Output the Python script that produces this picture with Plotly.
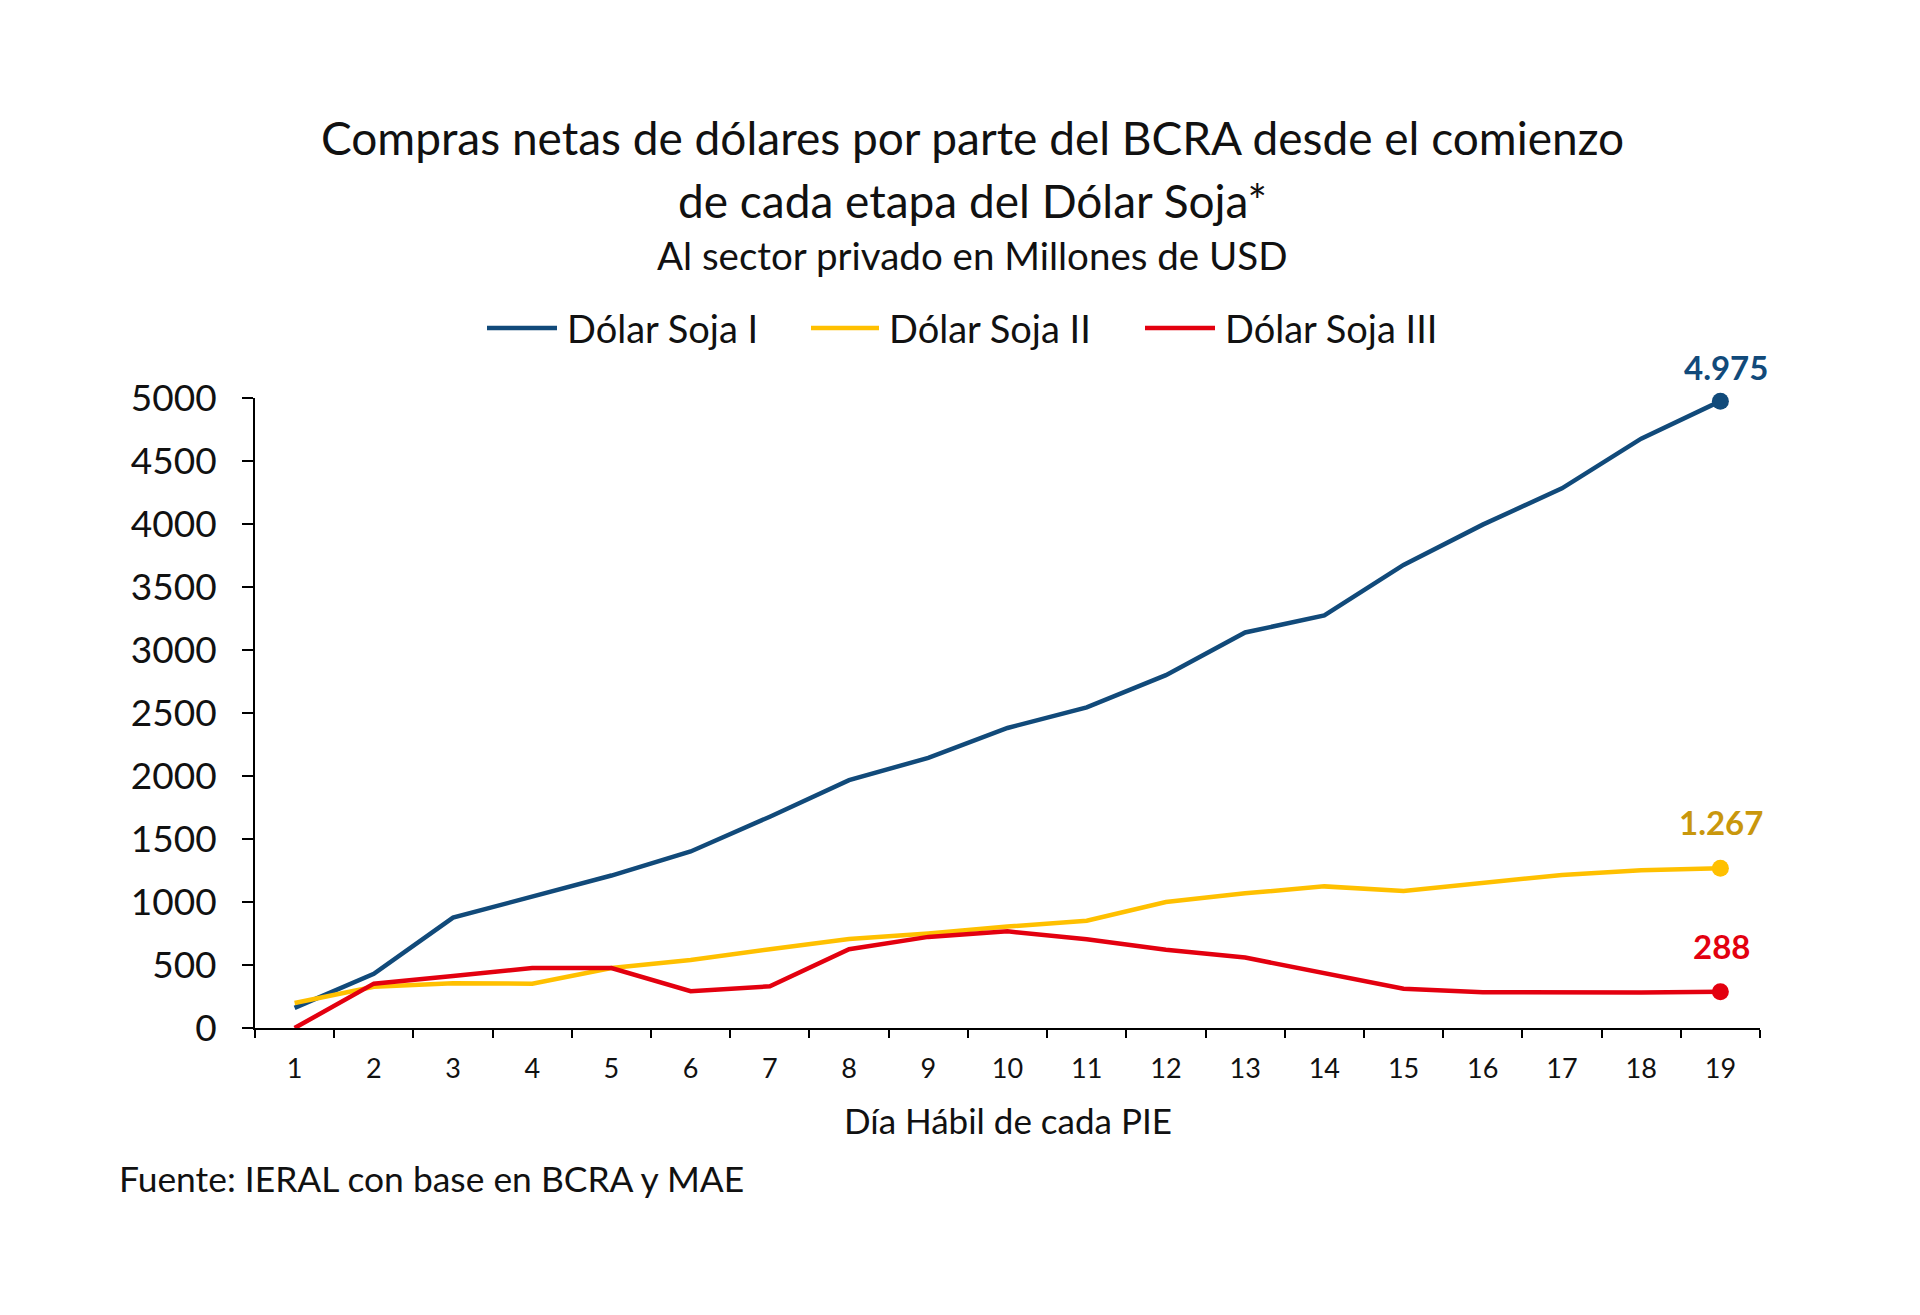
import plotly.graph_objects as go

dias = [str(i) for i in range(1, 20)]
soja_1 = [160, 430, 876, 1046, 1210, 1401, 1677, 1967, 2144, 2381, 2545, 2800, 3139, 3274, 3675, 3995, 4283, 4677, 4975]
soja_2 = [199, 327, 356, 352, 476, 540, 625, 706, 750, 805, 851, 1000, 1069, 1124, 1087, 1149, 1215, 1252, 1267]
soja_3 = [0, 352, 412, 476, 476, 292, 331, 625, 723, 767, 705, 621, 559, 432, 311, 284, 282, 282, 288]

nombres = ["Dólar Soja I", "Dólar Soja II", "Dólar Soja III"]
colores = ["#114A7A", "#FFC000", "#E3000F"]
colores_etiqueta = ["#114A7A", "#C9970C", "#E3000F"]
etiquetas = ["4.975", "1.267", "288"]
desplaz = [34, 46, 46]

FONT = "Lato"
TXT = "#111111"

# plot area on page: x 255..1760, y 398..1028 (page has 8px body margin)
PL, PR, PT, PB = 255, 1760, 398, 1028


def px(x):
    return (x - PL) / (PR - PL)


def py(y):
    return (PB - y) / (PB - PT)


fig = go.Figure()
for serie, nombre, color in zip([soja_1, soja_2, soja_3], nombres, colores):
    fig.add_trace(go.Scatter(
        x=dias, y=serie, name=nombre, mode="lines",
        line=dict(color=color, width=4.5),
        cliponaxis=False, showlegend=False,
    ))
for serie, color in zip([soja_1, soja_2, soja_3], colores):
    fig.add_trace(go.Scatter(
        x=[dias[-1]], y=[serie[-1]], mode="markers", showlegend=False,
        marker=dict(color=color, size=17), cliponaxis=False,
    ))

ultimo = len(dias) - 1  # category index of the last day
for serie, txt, col, dy in zip([soja_1, soja_2, soja_3], etiquetas, colores_etiqueta, desplaz):
    fig.add_annotation(x=ultimo, y=serie[-1], text=f"<b>{txt}</b>", showarrow=False,
                       yshift=dy, xshift=6 if txt == "4.975" else 1,
                       font=dict(family=FONT, size=33, color=col))

# manual legend (line sample + label), page coordinates
leg_lines = [(487, 557), (811, 879), (1145, 1215)]
leg_y = 328
for (x0, x1), nombre, color in zip(leg_lines, nombres, colores):
    fig.add_shape(type="line", xref="paper", yref="paper",
                  x0=px(x0), x1=px(x1), y0=py(leg_y), y1=py(leg_y),
                  line=dict(color=color, width=4.5))
    fig.add_annotation(xref="paper", yref="paper", x=px(x1 + 8), y=py(leg_y),
                       xanchor="left", yanchor="middle", text=nombre, showarrow=False,
                       font=dict(family=FONT, size=38, color=TXT))

titles = [
    ("Compras netas de dólares por parte del BCRA desde el comienzo", 138, 46),
    ("de cada etapa del Dólar Soja*", 200, 46),
    ("Al sector privado en Millones de USD", 255, 38.5),
]
for t, yy, fs in titles:
    fig.add_annotation(xref="paper", yref="paper", x=px(972), y=py(yy),
                       xanchor="center", yanchor="middle",
                       text=t, showarrow=False,
                       font=dict(family=FONT, size=fs, color=TXT))

fig.add_annotation(xref="paper", yref="paper", x=px(1008), y=py(1120),
                   xanchor="center", yanchor="middle",
                   text="Día Hábil de cada PIE", showarrow=False,
                   font=dict(family=FONT, size=35, color=TXT))
fig.add_annotation(xref="paper", yref="paper", x=px(117), y=py(1178),
                   xanchor="left", yanchor="middle",
                   text="Fuente: IERAL con base en BCRA y MAE", showarrow=False,
                   font=dict(family=FONT, size=35.4, color=TXT))

fig.update_layout(
    width=1920, height=1315,
    paper_bgcolor="white", plot_bgcolor="white",
    margin=dict(l=PL - 8, r=1920 - PR + 8, t=PT - 8, b=1315 - PB + 8),
    font=dict(family=FONT, color=TXT),
    showlegend=False,
    xaxis=dict(type="category", range=[-0.5, 18.5], showline=True, linecolor="black",
               linewidth=2, ticks="outside", tickson="boundaries", ticklen=8, tickwidth=2,
               tickcolor="black", showgrid=False, zeroline=False,
               tickfont=dict(family=FONT, size=27, color=TXT),
               ticklabelstandoff=16),
    yaxis=dict(range=[0, 5000], dtick=500, showline=True, linecolor="black",
               linewidth=2, ticks="outside", ticklen=11, tickwidth=2,
               tickcolor="black", showgrid=False, zeroline=False,
               tickfont=dict(family=FONT, size=37, color=TXT),
               ticklabelstandoff=18),
)

fig.write_html("out.html")
